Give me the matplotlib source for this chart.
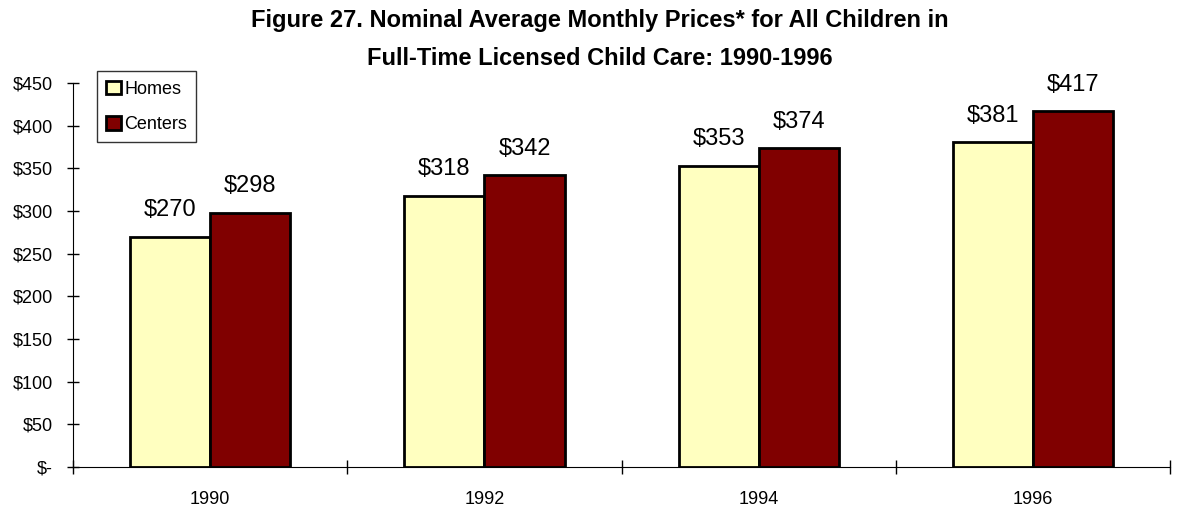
import numpy as np
import matplotlib.pyplot as plt
from matplotlib.ticker import FixedLocator

plt.rcParams['font.family'] = ['Liberation Sans', 'DejaVu Sans']

# Data
years = ['1990', '1992', '1994', '1996']
homes = [270, 318, 353, 381]
centers = [298, 342, 374, 417]
yticks = [0, 50, 100, 150, 200, 250, 300, 350, 400, 450]
ytick_labels = ['$-', '$50', '$100', '$150', '$200', '$250', '$300', '$350', '$400', '$450']

fig = plt.figure(figsize=(11.8, 5.14), dpi=100)
ax = fig.add_axes([0.062, 0.0914, 0.9295, 0.7471])

x = np.arange(len(years))
w = 0.292
b1 = ax.bar(x - w / 2, homes, w, color='#FFFFC0', edgecolor='black', linewidth=2, label='Homes')
b2 = ax.bar(x + w / 2, centers, w, color='#800000', edgecolor='black', linewidth=2, label='Centers')

# value labels above bars
for bars, vals in [(b1, homes), (b2, centers)]:
    for r, v in zip(bars, vals):
        ax.text(r.get_x() + r.get_width() / 2, v + 18, '$%d' % v,
                ha='center', va='bottom', fontsize=17)

ax.set_xlim(-0.5, len(years) - 0.5)
ax.set_ylim(0, 450)
ax.set_yticks(yticks)
ax.set_yticklabels(ytick_labels, fontsize=13)
ax.set_xticks(x)
ax.set_xticklabels(years, fontsize=13)
ax.xaxis.set_minor_locator(FixedLocator(np.arange(-0.5, len(years), 1.0)))
ax.tick_params(axis='x', which='major', length=0, pad=17)
ax.tick_params(axis='x', which='minor', direction='inout', length=10, width=1)
ax.tick_params(axis='y', direction='inout', length=9, width=1, pad=10)

for s in ['top', 'right']:
    ax.spines[s].set_visible(False)

leg = ax.legend(loc='upper left', bbox_to_anchor=(0.022, 1.03), fontsize=13,
                frameon=True, fancybox=False, edgecolor='black',
                handlelength=0.8, handleheight=0.8, handletextpad=0.2,
                borderpad=0.5, labelspacing=1.0, borderaxespad=0)
leg.get_frame().set_linewidth(1)

fig.text(0.508, 0.961, 'Figure 27. Nominal Average Monthly Prices* for All Children in',
         ha='center', va='center', fontsize=17, fontweight='bold')
fig.text(0.508, 0.887, 'Full-Time Licensed Child Care: 1990-1996',
         ha='center', va='center', fontsize=17, fontweight='bold')

fig.savefig('out.png', dpi=100)
